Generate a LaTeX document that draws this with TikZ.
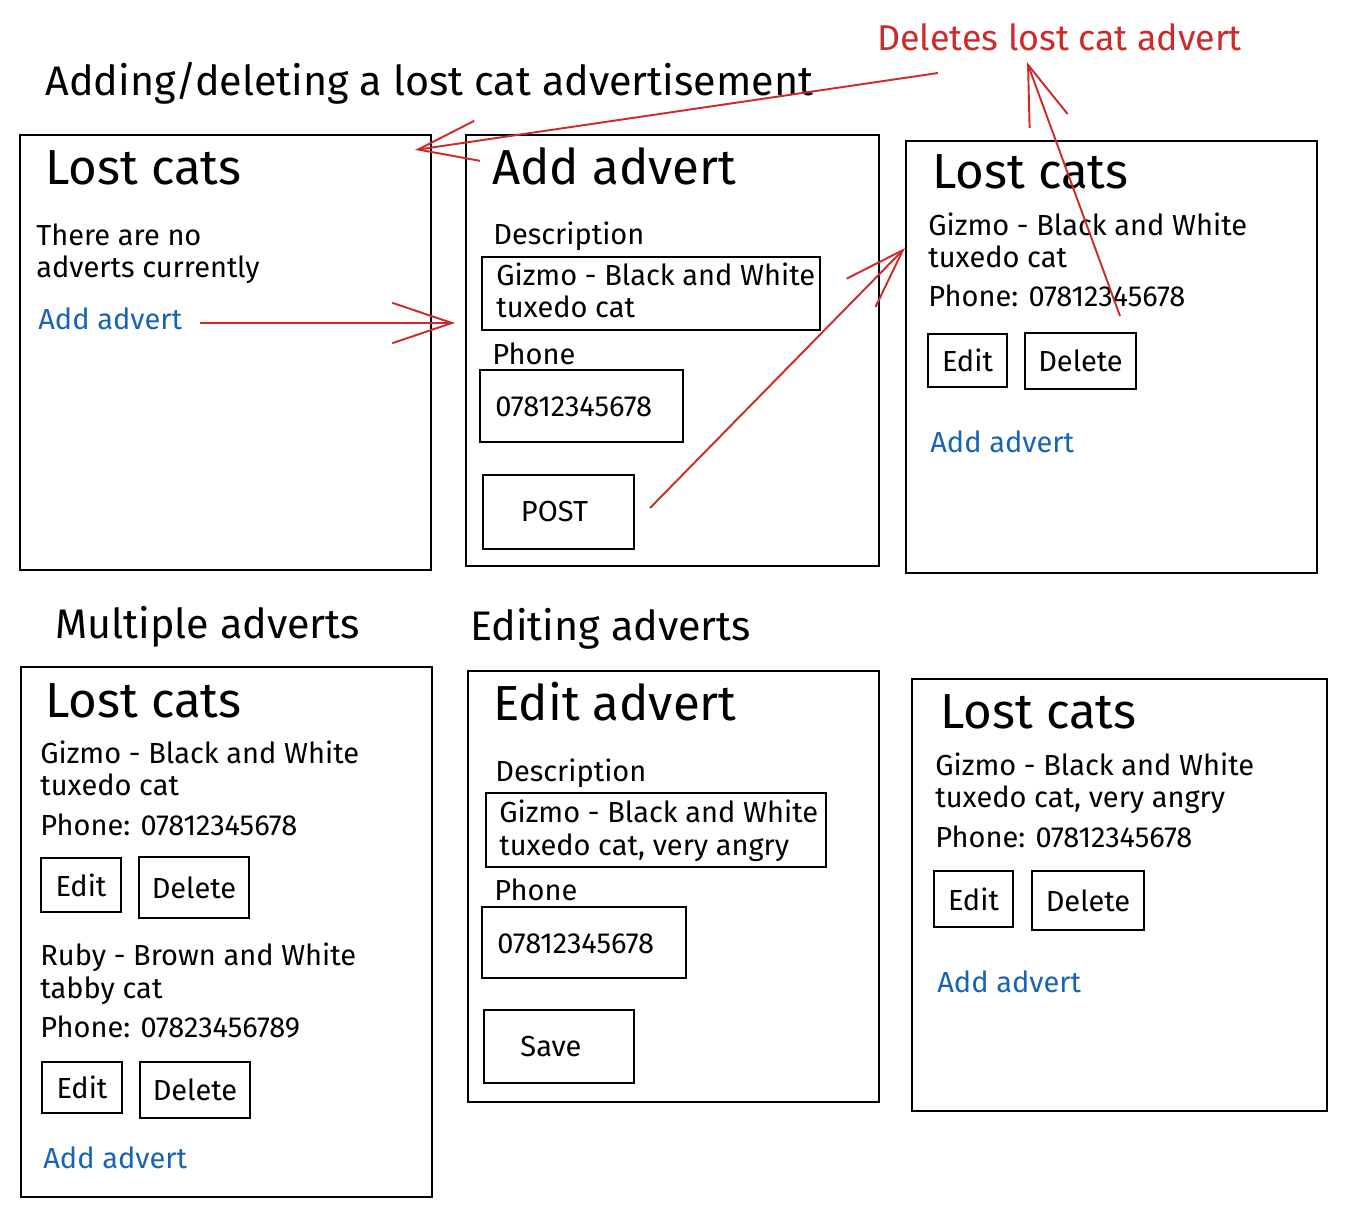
\documentclass[tikz,border=0pt]{standalone}
\usepackage{fontspec}
\setmainfont{Fira Sans}
\usetikzlibrary{positioning}
\usetikzlibrary{fit}
\usetikzlibrary{calc}
\usetikzlibrary{arrows.meta}
\definecolor{sketchred}{RGB}{205,42,42}
\definecolor{sketchblue}{RGB}{25,100,178}
\tikzset{panel/.style={draw,line width=1.4pt,inner sep=0pt}}
\tikzset{field/.style={draw,line width=1.3pt,inner sep=0pt}}
\tikzset{btn/.style={draw,line width=1.3pt,inner sep=0pt}}
\tikzset{txt/.style={anchor=base west,inner sep=0pt,font=\fontsize{16.5}{20}\selectfont}}
\tikzset{lbl/.style={txt,anchor=center}}
\tikzset{head/.style={anchor=base west,inner sep=0pt,font=\fontsize{28}{32}\selectfont}}
\tikzset{sect/.style={anchor=base west,inner sep=0pt,font=\fontsize{23.5}{28}\selectfont}}
\tikzset{link/.style={txt,text=sketchblue}}
\tikzset{note/.style={anchor=base west,inner sep=0pt,text=sketchred,font=\fontsize{20.4}{24}\selectfont}}
\tikzset{flow/.style={draw=sketchred,line width=1.1pt,-{Straight Barb[length=34pt,width=23pt,line width=1.1pt]}}}

\begin{document}
\begin{tikzpicture}[x=0.02cm,y=-0.02cm]
\useasboundingbox (0,0) rectangle (1345,1216);

\node[sect] (ttop) at (45,96) {Adding/deleting a lost cat advertisement};
\node[note] (del) at (877,51) {Deletes lost cat advert};

% empty list
\node[panel,fit={(20,135) (431,570)}] (p1) {};
\node[head] (p1h) at (45,185) {Lost cats};
\node[txt] (none1) at (36,246) {There are no};
\node[txt] (none2) at (36,278) {adverts currently};
\node[link] (add1) at (38,330) {Add advert};

% add form
\node[panel,fit={(466,135) (879,566)}] (p2) {};
\node[head] (p2h) at (492,185) {Add advert};
\node[txt] (desc2) at (493,245) {Description};
\node[field,fit={(482,257) (820,330)}] (descbox2) {};
\node[txt] (d2a) at (496,286) {Gizmo - Black and White};
\node[txt] (d2b) at (496,318) {tuxedo cat};
\node[txt] (ph2) at (492,364) {Phone};
\node[field,fit={(480,370) (683,442)}] (phbox2) {};
\node[txt] (num2) at (495,417) {07812345678};
\node[btn,fit={(483,475) (634,549)}] (post) {};
\node[lbl] (postt) at ($(post.center)+(-4,0)$) {POST};

% one advert
\node[panel,fit={(906,141) (1317,573)}] (p3) {};
\node[head] (p3h) at (932,189) {Lost cats};
\node[txt] (c3a) at (928,236) {Gizmo - Black and White};
\node[txt] (c3b) at (928,268) {tuxedo cat};
\node[txt] (c3p) at (928,307) {Phone: 07812345678};
\node[btn,fit={(928,334) (1007,387)}] (edit3) {};
\node[lbl] at (edit3.center) {Edit};
\node[btn,fit={(1025,333) (1136,389)}] (delete3) {};
\node[lbl] at (delete3.center) {Delete};
\node[link] (add3) at (930,452) {Add advert};

\node[sect] (tmulti) at (55,638) {Multiple adverts};
\node[sect] (tedit) at (470,640) {Editing adverts};

% two adverts
\node[panel,fit={(21,667) (432,1197)}] (p4) {};
\node[head] (p4h) at (45,717) {Lost cats};
\node[txt] (c4a) at (40,763) {Gizmo - Black and White};
\node[txt] (c4b) at (40,795) {tuxedo cat};
\node[txt] (c4p) at (40,835) {Phone: 07812345678};
\node[btn,fit={(41,858) (121,912)}] (edit4) {};
\node[lbl] at (edit4.center) {Edit};
\node[btn,fit={(139,857) (249,918)}] (delete4) {};
\node[lbl] at (delete4.center) {Delete};
\node[txt] (r4a) at (40,965) {Ruby - Brown and White};
\node[txt] (r4b) at (40,998) {tabby cat};
\node[txt] (r4p) at (40,1037) {Phone: 07823456789};
\node[btn,fit={(42,1062) (122,1113)}] (edit4r) {};
\node[lbl] at (edit4r.center) {Edit};
\node[btn,fit={(140,1062) (250,1118)}] (delete4r) {};
\node[lbl] at (delete4r.center) {Delete};
\node[link] (add4) at (43,1168) {Add advert};

% edit form
\node[panel,fit={(468,671) (879,1102)}] (p5) {};
\node[head] (p5h) at (493,720) {Edit advert};
\node[txt] (desc5) at (495,781) {Description};
\node[field,fit={(486,793) (826,867)}] (descbox5) {};
\node[txt] (d5a) at (499,822) {Gizmo - Black and White};
\node[txt] (d5b) at (499,855) {tuxedo cat, very angry};
\node[txt] (ph5) at (494,900) {Phone};
\node[field,fit={(482,907) (686,978)}] (phbox5) {};
\node[txt] (num5) at (497,953) {07812345678};
\node[btn,fit={(484,1010) (634,1083)}] (save) {};
\node[lbl] (savet) at ($(save.center)+(-8,0)$) {Save};

% edited advert
\node[panel,fit={(912,679) (1327,1111)}] (p6) {};
\node[head] (p6h) at (940,728) {Lost cats};
\node[txt] (c6a) at (935,775) {Gizmo - Black and White};
\node[txt] (c6b) at (935,807) {tuxedo cat, very angry};
\node[txt] (c6p) at (935,847) {Phone: 07812345678};
\node[btn,fit={(934,871) (1013,927)}] (edit6) {};
\node[lbl] at (edit6.center) {Edit};
\node[btn,fit={(1032,871) (1144,930)}] (delete6) {};
\node[lbl] at (delete6.center) {Delete};
\node[link] (add6) at (937,992) {Add advert};

\coordinate (a1) at (455,323);
\coordinate (a2s) at (650,508);
\coordinate (a2) at (905,248);
\coordinate (a3s) at (938,73);
\coordinate (a3) at (415,150);
\coordinate (a4s) at (1120,316);
\coordinate (a4) at (1027,62);

\draw[flow] ($(add1.base east)+(18,-7)$) -- (a1);
\draw[flow] (a2s) -- (a2);
\draw[flow] (a3s) -- (a3);
\draw[flow] (a4s) -- (a4);

\end{tikzpicture}
\end{document}
